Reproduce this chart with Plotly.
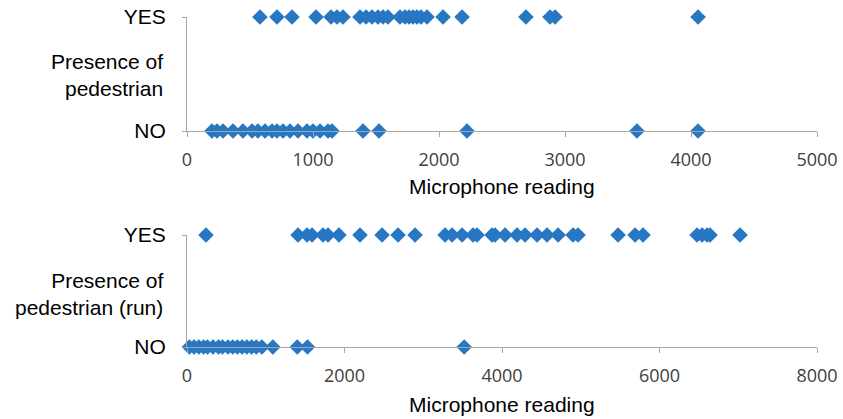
import plotly.graph_objects as go

# Microphone readings grouped by whether a pedestrian was present
walk_yes = [579, 714, 833, 1024, 1143, 1190, 1238, 1373, 1421, 1468, 1516, 1556,
            1595, 1690, 1730, 1762, 1794, 1825, 1857, 1905, 2032, 2183, 2690,
            2881, 2921, 4056]
walk_no = [198, 238, 286, 365, 444, 516, 563, 619, 675, 714, 762, 817, 881, 952,
           1000, 1056, 1119, 1151, 1397, 1524, 2222, 3571, 4056]

run_yes = [241, 1410, 1524, 1588, 1727, 1791, 1930, 2197, 2477, 2680, 2896, 3277,
           3366, 3493, 3632, 3683, 3874, 3912, 4039, 4191, 4293, 4445, 4572, 4712,
           4902, 4966, 5474, 5690, 5791, 6477, 6541, 6604, 6642, 7023]
run_no = [30, 90, 150, 210, 260, 330, 400, 450, 520, 580, 640, 700, 760, 820, 880,
          950, 1090, 1400, 1530, 3520]

cat_vals = [0, 1]
cat_text = ["NO", "YES"]
x_top_ticks = [0, 1000, 2000, 3000, 4000, 5000]
x_bot_ticks = [0, 2000, 4000, 6000, 8000]
y_titles = ["Presence of<br>pedestrian", "Presence of<br>pedestrian (run)"]
x_title = "Microphone reading"

BLUE = "#2777C3"
AXIS = "#A6A6A6"
LABEL_FONT = dict(family="Liberation Sans, Arial, sans-serif", size=21, color="#000000")
TICK_FONT = dict(family="Open Sans, sans-serif", size=18, color="#404040")

W, H = 843, 419
x0, x1 = 187, 817
top_yes, top_no = 17, 131
bot_yes, bot_no = 235, 347

def py(p):
    return 1 - p / H

fig = go.Figure()

def add_pair(yes, no, xa, ya):
    for vals, level in ((yes, 1), (no, 0)):
        fig.add_trace(go.Scatter(
            x=vals, y=[level] * len(vals), mode="markers",
            marker=dict(symbol="diamond", size=12, color=BLUE, line=dict(width=0)),
            xaxis=xa, yaxis=ya, cliponaxis=False, showlegend=False,
            hoverinfo="x+y"))

add_pair(walk_yes, walk_no, "x", "y")
add_pair(run_yes, run_no, "x2", "y2")

xdom = [x0 / W, x1 / W]

def xaxis(rng, ticks, anchor):
    return dict(domain=xdom, range=rng, tickvals=ticks, ticktext=[str(t) for t in ticks],
                showline=True, linecolor=AXIS, linewidth=1, ticks="outside",
                ticklen=5, tickcolor=AXIS, showgrid=False, zeroline=False,
                tickfont=TICK_FONT, anchor=anchor, fixedrange=True, automargin=False,
                ticklabelstandoff=7)

def yaxis(dom, anchor):
    return dict(domain=dom, range=[0, 1], tickvals=cat_vals, ticktext=cat_text,
                showline=True, linecolor=AXIS, linewidth=1, ticks="outside",
                ticklen=4, tickcolor=AXIS, showgrid=True, gridcolor=AXIS,
                gridwidth=1, zeroline=False, tickfont=LABEL_FONT, anchor=anchor,
                ticklabelstandoff=12, fixedrange=True, automargin=False)

fig.update_layout(
    width=W, height=H,
    margin=dict(l=0, r=0, t=0, b=0, autoexpand=False),
    paper_bgcolor="white", plot_bgcolor="white",
    xaxis=xaxis([0, 5000], x_top_ticks, "y"),
    yaxis=yaxis([py(top_no), py(top_yes)], "x"),
    xaxis2=xaxis([0, 8000], x_bot_ticks, "y2"),
    yaxis2=yaxis([py(bot_no), py(bot_yes)], "x2"),
)

# Axis titles
for ytitle, ty in zip(y_titles, (75, 294)):
    fig.add_annotation(text=ytitle, xref="paper", yref="paper",
                       x=165 / W, y=py(ty), xanchor="right",
                       yanchor="middle", align="right", showarrow=False,
                       font=LABEL_FONT)

for ty in (186, 404):
    fig.add_annotation(text=x_title, xref="paper", yref="paper",
                       x=(x0 + x1) / 2 / W, y=py(ty), xanchor="center",
                       yanchor="middle", showarrow=False, font=LABEL_FONT)

fig.write_html("out.html")
